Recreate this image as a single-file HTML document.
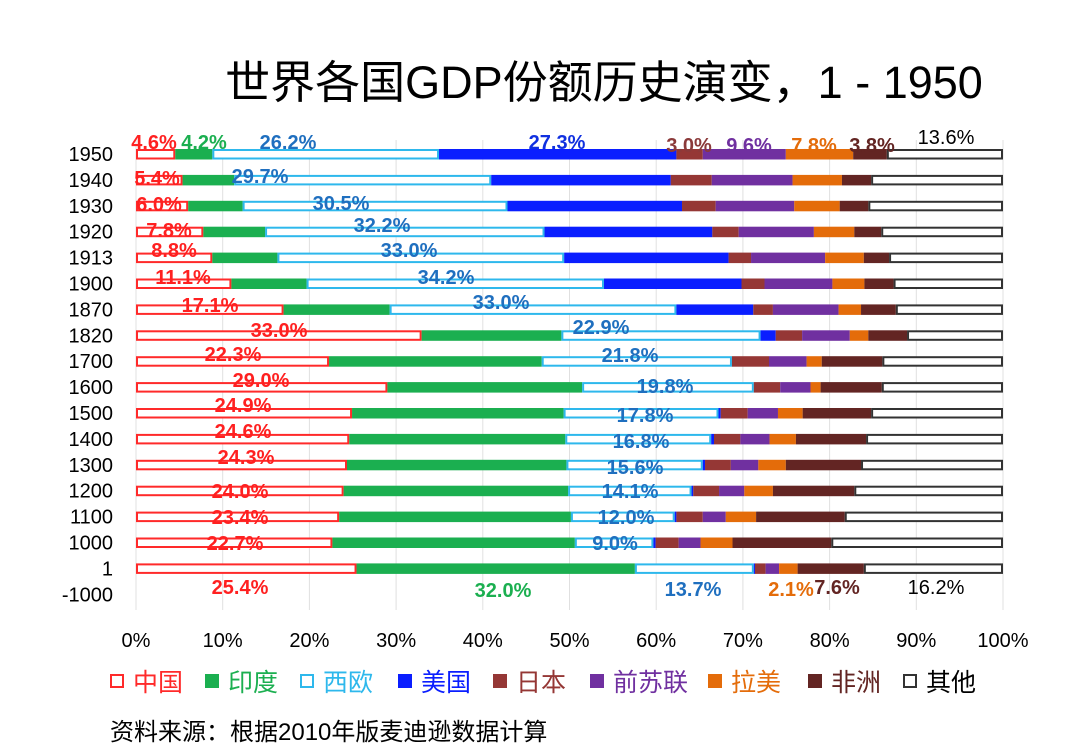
<!DOCTYPE html>
<html><head><meta charset="utf-8"><style>
body{margin:0;background:#fff;}
svg text{font-family:"Liberation Sans","Noto Sans CJK SC",sans-serif;}
</style></head><body>
<svg id="s" width="1080" height="751" xmlns="http://www.w3.org/2000/svg">
<text x="604" y="98" font-size="45" text-anchor="middle" fill="#000">世界各国GDP份额历史演变，1 - 1950</text>
<g id="g"></g>
</svg>
<script>
const g=document.getElementById('g');const NS='http://www.w3.org/2000/svg';
function el(t,a,txt){const e=document.createElementNS(NS,t);for(const k in a)e.setAttribute(k,a[k]);if(txt!=null)e.textContent=txt;g.appendChild(e);return e;}
const X=p=>136+p*8.67;
for(let i=0;i<=10;i++){el('line',{x1:X(i*10),x2:X(i*10),y1:140,y2:610,stroke:'#e0e0e0','stroke-width':1});
el('text',{x:X(i*10),y:647,'font-size':20,'text-anchor':'middle',fill:'#000'},(i*10)+'%');}
const rows=[["1950",[80,146,550,973,1020,1168,1288,1348]],["1940",[93,185,643,963,1036,1180,1268,1320]],["1930",[103,200,672,983,1043,1183,1264,1315]],["1920",[130,240,738,1037,1084,1218,1290,1338]],["1913",[146,262,773,1066,1106,1238,1307,1352]],["1900",[180,314,844,1089,1130,1251,1308,1360]],["1870",[273,462,973,1110,1145,1262,1302,1364]],["1820",[519,768,1123,1150,1197,1282,1315,1384]],["1700",[354,733,1072,1072,1138,1205,1232,1340]],["1600",[458,805,1111,1111,1158,1212,1230,1339]],["1500",[395,772,1048,1052,1100,1154,1198,1320]],["1400",[390,775,1035,1040,1087,1139,1186,1311]],["1300",[386,777,1020,1024,1070,1119,1168,1302]],["1200",[380,780,1000,1003,1049,1094,1145,1290]],["1100",[372,785,970,973,1020,1061,1115,1273]],["1000",[360,792,932,936,977,1016,1073,1249]],["1",[403,899,1111,1113,1132,1156,1189,1307]],["-1000",null]];
const cols=[['o','#FF2A2A'],['f','#1BAF50'],['o','#2EB8EC'],['f','#0A1EFF'],['f','#953735'],['f','#7030A0'],['f','#E46C0A'],['f','#632523'],['o','#333']];
const Z=z=>136+(z-10)/1545*867;
rows.forEach((r,i)=>{const yc=154+i*25.9;
el('text',{x:113,y:yc+7,'font-size':20,'text-anchor':'end',fill:'#000'},r[0]);
if(!r[1])return;const b=[10,...r[1],1555];
for(let k=0;k<9;k++){const x1=Z(b[k]),x2=Z(b[k+1]);if(x2-x1<0.3)continue;const c=cols[k];
if(c[0]=='f')el('rect',{x:x1,y:yc-5,width:x2-x1,height:10.5,fill:c[1]});
else el('rect',{x:x1+1,y:yc-4,width:Math.max(x2-x1-2,0),height:8.5,fill:'#fff',stroke:c[1],'stroke-width':2});}});
const L=[["4.6%",154,142,'#FF2020'],["4.2%",204,142,'#1BAF50'],["26.2%",288,142,'#1F6FBF'],["27.3%",557,142,'#1030E0'],["3.0%",689,145,'#8B3A3A'],["9.6%",749,145,'#7030A0'],["7.8%",814,145,'#E46C0A'],["3.8%",872,145,'#632523'],
["5.4%",157,178,'#FF2020'],["29.7%",260,176,'#1F6FBF'],["6.0%",159,204,'#FF2020'],["30.5%",341,203,'#1F6FBF'],["7.8%",169,230,'#FF2020'],["32.2%",382,225,'#1F6FBF'],["8.8%",174,250,'#FF2020'],["33.0%",409,250,'#1F6FBF'],["11.1%",183,277,'#FF2020'],["34.2%",446,277,'#1F6FBF'],["17.1%",210,305,'#FF2020'],["33.0%",501,302,'#1F6FBF'],["33.0%",279,330,'#FF2020'],["22.9%",601,327,'#1F6FBF'],["22.3%",233,354,'#FF2020'],["21.8%",630,355,'#1F6FBF'],["29.0%",261,380,'#FF2020'],["19.8%",665,386,'#1F6FBF'],["24.9%",243,405,'#FF2020'],["17.8%",645,415,'#1F6FBF'],["24.6%",243,431,'#FF2020'],["16.8%",641,441,'#1F6FBF'],["24.3%",246,457,'#FF2020'],["15.6%",635,467,'#1F6FBF'],["24.0%",240,491,'#FF2020'],["14.1%",630,491,'#1F6FBF'],["23.4%",240,517,'#FF2020'],["12.0%",626,517,'#1F6FBF'],["22.7%",235,543,'#FF2020'],["9.0%",615,543,'#1F6FBF'],
["25.4%",240,587,'#FF2020'],["32.0%",503,590,'#1BAF50'],["13.7%",693,589,'#1F6FBF'],["2.1%",791,589,'#E46C0A'],["7.6%",837,587,'#632523']];
L.forEach(l=>el('text',{x:l[1],y:l[2]+7,'font-size':20,'font-weight':'bold','text-anchor':'middle',fill:l[3]},l[0]));
el('text',{x:946,y:144,'font-size':20,'text-anchor':'middle',fill:'#000'},"13.6%");
el('text',{x:936,y:594,'font-size':20,'text-anchor':'middle',fill:'#000'},"16.2%");
const lg=[["中国",110,'o','#FF2A2A'],["印度",205,'f','#1BAF50'],["西欧",300,'o','#2EB8EC'],["美国",398,'f','#0A1EFF'],["日本",493,'f','#953735'],["前苏联",590,'f','#7030A0'],["拉美",708,'f','#E46C0A'],["非洲",808,'f','#632523'],["其他",903,'o','#333']];
lg.forEach(l=>{if(l[2]=='f')el('rect',{x:l[1],y:674,width:14,height:14,fill:l[3]});else el('rect',{x:l[1]+1,y:675,width:12,height:12,fill:'#fff',stroke:l[3],'stroke-width':2});
el('text',{x:l[1]+23,y:691,'font-size':25,fill:l[3]=='#333'?'#000':l[3]},l[0]);});
el('text',{x:110,y:740,'font-size':24,fill:'#000'},"资料来源：根据2010年版麦迪逊数据计算");
</script>
</body></html>
